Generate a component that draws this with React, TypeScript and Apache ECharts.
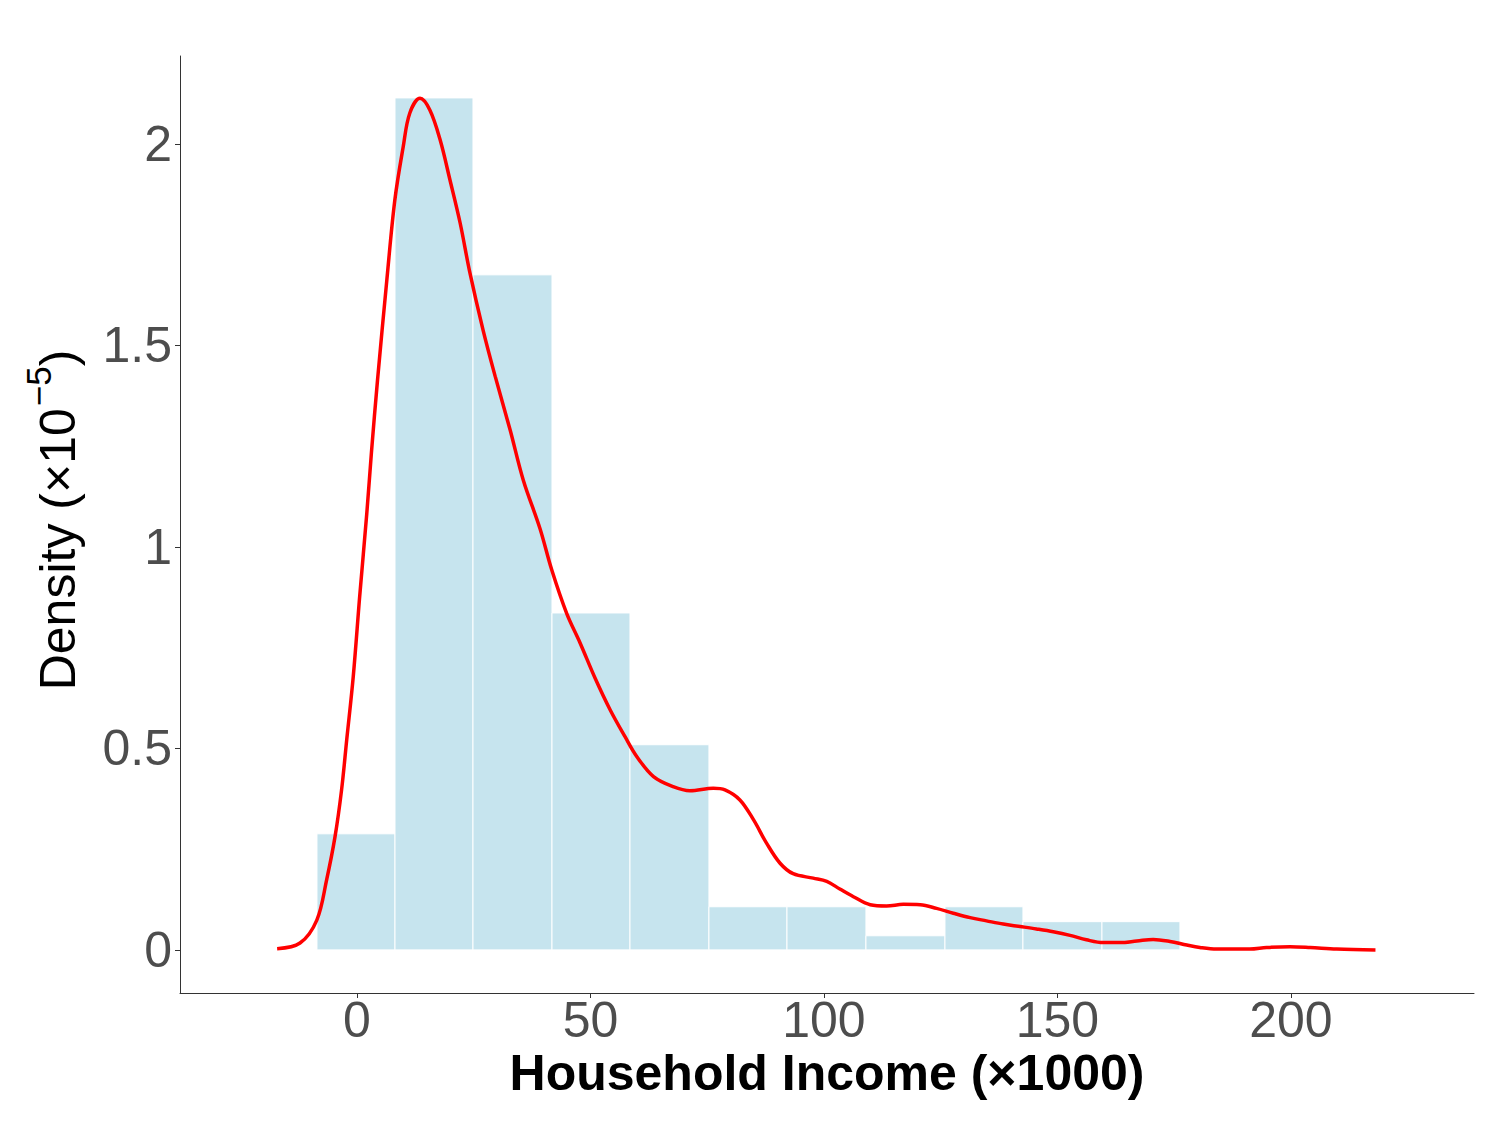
import React, { useEffect, useRef } from "react";
import * as echarts from "echarts";

// Histogram bin edges (x, ×1000) and bar densities (×10^-5)
const binEdges = [-8.57, 8.14, 24.84, 41.76, 58.46, 75.37, 92.08, 108.99, 125.91, 142.61, 159.53, 176.23];
const binDensity = [0.288, 2.114, 1.675, 0.836, 0.509, 0.107, 0.107, 0.035, 0.107, 0.07, 0.07];

// Kernel density curve
const densityX = [
  -17.1, -12.2, -8.6, -6.5, -4.7, -3.3, -2.2, -0.8, 0.6, 2.1, 3.1, 4.4, 6.4, 8.1, 9.9, 11.3, 13.5, 15.6,
  17.8, 19.9, 22.1, 24.2, 27.0, 29.6, 32.8, 35.6, 39.2, 41.7, 44.9, 47.8, 51.0, 54.2, 57.4, 59.9, 63.5,
  67.7, 71.3, 76.3, 78.8, 82.0, 84.9, 87.7, 90.6, 93.4, 97.7, 100.6, 103.4, 106.3, 109.9, 113.4, 117.0,
  120.6, 124.1, 127.7, 131.3, 134.8, 138.4, 142.0, 145.5, 149.1, 152.7, 156.2, 159.8, 163.4, 167.0, 170.5,
  174.1, 177.7, 180.5, 184.1, 191.2, 194.8, 199.8, 204.1, 209.8, 218.1,
];
const densityY = [
  0.003, 0.017, 0.074, 0.174, 0.281, 0.397, 0.521, 0.678, 0.88, 1.083, 1.235, 1.414, 1.663, 1.86, 1.993,
  2.076, 2.113, 2.084, 2.01, 1.911, 1.803, 1.679, 1.538, 1.423, 1.29, 1.166, 1.045, 0.943, 0.835, 0.761,
  0.674, 0.596, 0.529, 0.48, 0.43, 0.405, 0.395, 0.401, 0.397, 0.372, 0.323, 0.265, 0.215, 0.189, 0.178,
  0.17, 0.151, 0.132, 0.112, 0.109, 0.113, 0.112, 0.103, 0.091, 0.08, 0.072, 0.064, 0.058, 0.052, 0.045,
  0.036, 0.025, 0.018, 0.018, 0.022, 0.026, 0.021, 0.012, 0.006, 0.002, 0.002, 0.006, 0.008, 0.006, 0.002,
  0.0,
];

const xTicks = [0, 50, 100, 150, 200];
const yTicks = [0, 0.5, 1, 1.5, 2];

const yTitleMain = "Density (×10";
const yTitleSup = "−5";
const yTitleEnd = ")";

const FONT = "'Liberation Sans', Arial, Helvetica, sans-serif";

function measure(text: string, size: number): number {
  try {
    const ctx = document.createElement("canvas").getContext("2d");
    if (ctx) {
      ctx.font = `${size}px ${FONT}`;
      return ctx.measureText(text).width;
    }
  } catch (e) {
    /* ignore */
  }
  return text.length * size * 0.55;
}

export default function App() {
  const ref = useRef<HTMLDivElement>(null);

  useEffect(() => {
    if (!ref.current) return;
    const chart = echarts.init(ref.current, null, { renderer: "svg" });

    const barData = binDensity.map((d, i) => [binEdges[i], binEdges[i + 1], d]);
    const lineData = densityX.map((x, i) => [x, densityY[i]]);

    const w1 = measure(yTitleMain, 50);
    const w2 = measure(yTitleSup, 35) + 2;
    const w3 = measure(yTitleEnd, 50);
    const W = w1 + w2 + w3;
    const x0 = -W / 2;

    const option: any = {
      animation: false,
      backgroundColor: "#ffffff",
      grid: { left: 180, right: 26, top: 56, bottom: 132 },
      xAxis: {
        type: "value",
        min: -37.9,
        max: 239.2,
        axisLine: { show: true, onZero: false, lineStyle: { color: "#333333", width: 1 } },
        axisTick: { show: true, length: 5, customValues: xTicks, lineStyle: { color: "#333333" } },
        axisLabel: {
          customValues: xTicks,
          color: "#4D4D4D",
          fontSize: 50,
          fontFamily: FONT,
          margin: 2,
        },
        splitLine: { show: false },
      },
      yAxis: {
        type: "value",
        min: -0.107,
        max: 2.218,
        axisLine: { show: true, onZero: false, lineStyle: { color: "#333333", width: 1 } },
        axisTick: { show: true, length: 5, customValues: yTicks, lineStyle: { color: "#333333" } },
        axisLabel: {
          customValues: yTicks,
          color: "#4D4D4D",
          fontSize: 50,
          fontFamily: FONT,
          margin: 8,
          formatter: (v: number) => String(v),
        },
        splitLine: { show: false },
      },
      series: [
        {
          type: "custom",
          data: barData,
          encode: { x: [0, 1], y: 2 },
          renderItem: (params: any, api: any) => {
            const p0 = api.coord([api.value(0), api.value(2)]);
            const p1 = api.coord([api.value(1), 0]);
            return {
              type: "rect",
              shape: { x: p0[0], y: p0[1], width: p1[0] - p0[0], height: p1[1] - p0[1] },
              style: { fill: "#C6E4EE", stroke: "#ffffff", lineWidth: 1 },
            };
          },
          z: 1,
        },
        {
          type: "line",
          data: lineData,
          showSymbol: false,
          smooth: 0.35,
          lineStyle: { color: "#FF0000", width: 3.5 },
          z: 3,
        },
      ],
      graphic: [
        {
          type: "text",
          x: 827,
          y: 1073,
          style: {
            text: "Household Income (×1000)",
            fontSize: 50,
            fontWeight: "bold",
            fontFamily: FONT,
            fill: "#000000",
            textAlign: "center",
            textVerticalAlign: "middle",
          },
        },
        {
          type: "group",
          x: 58,
          y: 520,
          rotation: Math.PI / 2,
          children: [
            {
              type: "text",
              x: x0,
              y: 0,
              style: {
                text: yTitleMain,
                fontSize: 50,
                fontFamily: FONT,
                fill: "#000000",
                textAlign: "left",
                textVerticalAlign: "middle",
              },
            },
            {
              type: "text",
              x: x0 + w1 + 2,
              y: -20,
              style: {
                text: yTitleSup,
                fontSize: 35,
                fontFamily: FONT,
                fill: "#000000",
                textAlign: "left",
                textVerticalAlign: "middle",
              },
            },
            {
              type: "text",
              x: x0 + w1 + w2,
              y: 0,
              style: {
                text: yTitleEnd,
                fontSize: 50,
                fontFamily: FONT,
                fill: "#000000",
                textAlign: "left",
                textVerticalAlign: "middle",
              },
            },
          ],
        },
      ],
    };

    chart.setOption(option);
    return () => chart.dispose();
  }, []);

  return (
    <div
      ref={ref}
      style={{ position: "absolute", left: 0, top: 0, width: 1500, height: 1125, background: "#fff" }}
    />
  );
}
